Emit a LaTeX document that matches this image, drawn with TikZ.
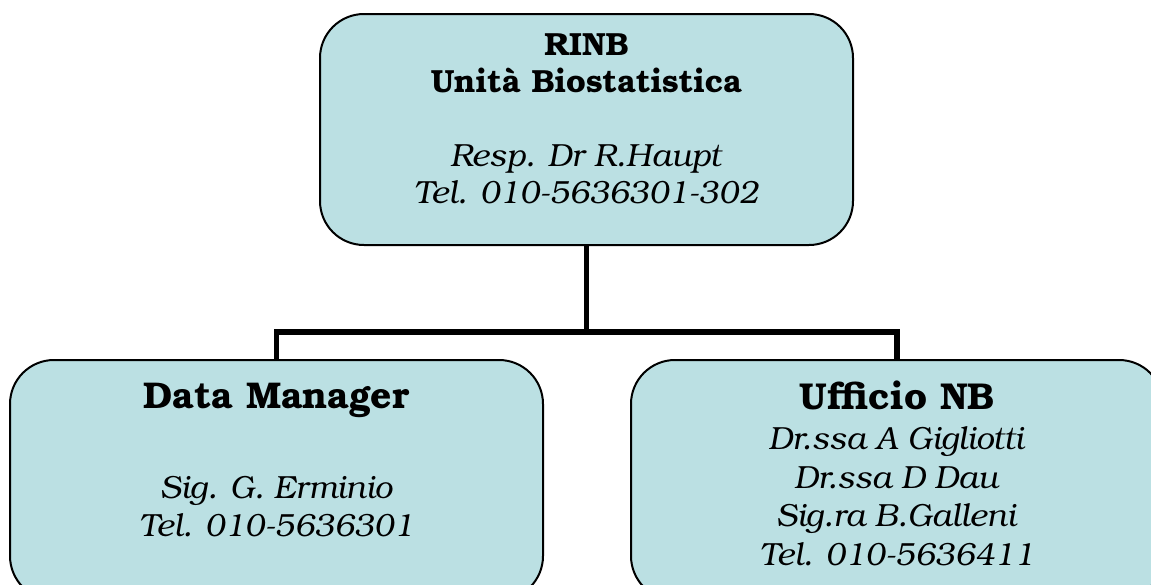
\documentclass[tikz,border=0pt]{standalone}
\usepackage{fontspec}
\setmainfont{TeX Gyre Bonum}
\definecolor{boxfill}{RGB}{187,224,227}
\tikzset{
  orgbox/.style={draw=black, line width=1pt, fill=boxfill, rounded corners=22pt},
  conn/.style={draw=black, line width=2.6pt},
  txt/.style={inner sep=0pt, align=center}
}
\begin{document}
\begin{tikzpicture}[x=0.5pt,y=-0.5pt]
\useasboundingbox (0,0) rectangle (1151,584);
\clip (0,0) rectangle (1151,584);
\fill[white] (0,0) rectangle (1151,584);
\path[orgbox] (320,14) rectangle (853,245);
\path[orgbox] (10,360) rectangle (543,600);
\path[orgbox] (631,360) rectangle (1163,600);
\coordinate (topc) at (586.5,245);
\coordinate (mid) at (586.5,332);
\coordinate (lj) at (276.5,332);
\coordinate (rj) at (897,332);
\coordinate (lt) at (276.5,360);
\coordinate (rt) at (897,360);
\draw[conn] (topc) -- (mid);
\draw[conn] (lt) -- (lj) -- (rj) -- (rt);
\node[txt, font={\fontsize{16}{18.5pt}\selectfont}] (top) at (586.5,119)
  {\textbf{RINB}\\ \textbf{Unità Biostatistica}\\[18.5pt]
   \textit{Resp. Dr R.Haupt}\\ \textit{Tel. 010-5636301-302}};
\node[txt, font={\fontsize{16}{19pt}\selectfont}] (left) at (276.5,460)
  {{\fontsize{18.6}{19pt}\selectfont\textbf{Data Manager}}\\[26pt]
   \textit{Sig. G. Erminio}\\ \textit{Tel. 010-5636301}};
\node[txt, font={\fontsize{16}{19.25pt}\selectfont}] (right) at (897,473)
  {{\fontsize{18.7}{19pt}\selectfont\textbf{Ufficio NB}}\\[1pt]
   \textit{Dr.ssa A Gigliotti}\\ \textit{Dr.ssa D Dau}\\
   \textit{Sig.ra B.Galleni}\\ \textit{Tel. 010-5636411}};
\end{tikzpicture}
\end{document}
